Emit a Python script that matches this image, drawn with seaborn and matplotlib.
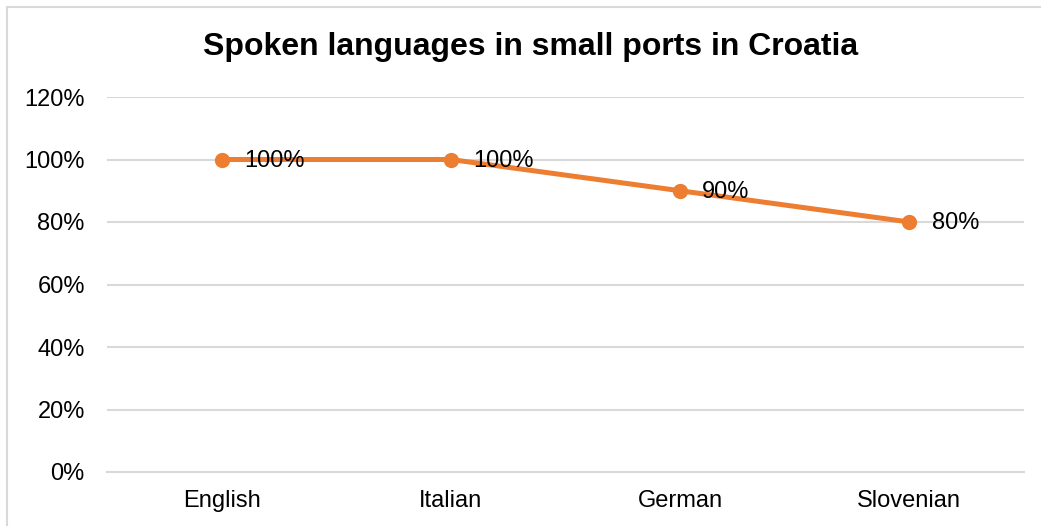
import matplotlib
matplotlib.use("Agg")
import matplotlib.pyplot as plt
import seaborn as sns
import pandas as pd
from matplotlib.patches import Rectangle
from matplotlib.ticker import FuncFormatter, FixedLocator

languages = ["English", "Italian", "German", "Slovenian"]
shares = [1.00, 1.00, 0.90, 0.80]
label_texts = ["100%", "100%", "90%", "80%"]
y_ticks = [0.0, 0.2, 0.4, 0.6, 0.8, 1.0, 1.2]

sns.set_theme(style="white")
plt.rcParams["font.family"] = ["Liberation Sans", "DejaVu Sans"]

W, H = 1041, 526
fig = plt.figure(figsize=(W / 100, H / 100), dpi=100)
ax = fig.add_axes([107 / W, 1 - 472 / H, (1024 - 107) / W, (472 - 97) / H])

df = pd.DataFrame({"lang": languages, "share": shares})
orange = "#ED7D31"
sns.lineplot(data=df, x="lang", y="share", ax=ax, sort=False, color=orange,
             linewidth=3.6, marker="o", markersize=11, markeredgewidth=0,
             zorder=3)

for i, (v, t) in enumerate(zip(shares, label_texts)):
    ax.annotate(t, (i, v), xytext=(16, -1), textcoords="offset points",
                ha="left", va="center", fontsize=17, color="#000000", zorder=5)

ax.set_xlim(-0.5, len(languages) - 0.5)
ax.set_ylim(0, 1.2)
ax.yaxis.set_major_locator(FixedLocator(y_ticks))
ax.yaxis.set_major_formatter(FuncFormatter(lambda v, p: f"{v*100:.0f}%"))
ax.set_xticks(range(len(languages)))
ax.set_xticklabels(languages)
ax.xaxis.set_minor_locator(FixedLocator([i - 0.5 for i in range(len(languages) + 1)]))
ax.tick_params(axis="x", which="major", length=0, pad=13, labelsize=17, colors="#000000")
ax.tick_params(axis="x", which="minor", length=7, width=1.5, color="#D9D9D9", direction="out")
ax.tick_params(axis="y", length=0, pad=16, labelsize=17, colors="#000000")
ax.set_xlabel("")
ax.set_ylabel("")

ax.grid(axis="y", color="#D9D9D9", linewidth=1.5)
ax.set_axisbelow(True)
for s in ["top", "right", "left"]:
    ax.spines[s].set_visible(False)
ax.spines["bottom"].set_color("#D9D9D9")
ax.spines["bottom"].set_linewidth(1.5)

fig.text(531 / W, 1 - 47 / H, "Spoken languages in small ports in Croatia",
         ha="center", va="center", fontsize=23, fontweight="bold", color="#000000")

fig.patches.append(Rectangle((7 / W, -0.05), 1.1, 1 - 7 / H + 0.05,
                             transform=fig.transFigure, fill=False,
                             edgecolor="#D9D9D9", linewidth=1.5))

fig.savefig("out.png", dpi=100, facecolor="white")
